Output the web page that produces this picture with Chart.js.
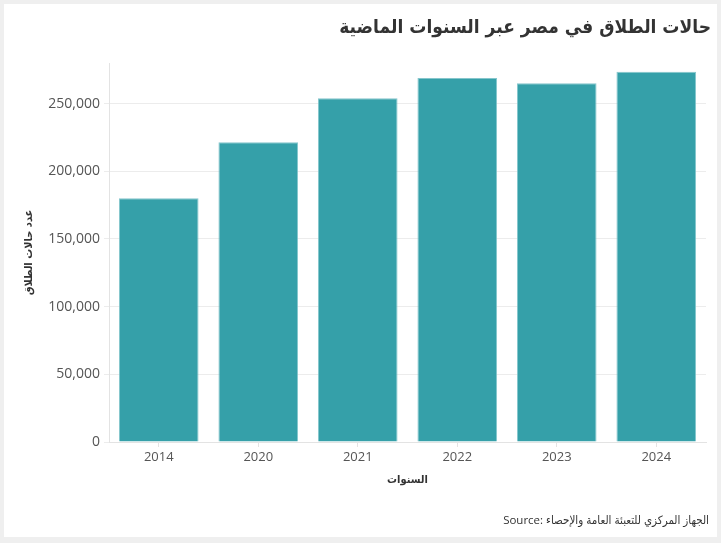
<!DOCTYPE html>
<html lang="ar">
<head>
<meta charset="utf-8">
<title>حالات الطلاق في مصر</title>
<script src="https://cdn.jsdelivr.net/npm/chart.js@4.4.1/dist/chart.umd.min.js"></script>
<style>
  html, body { margin: 0; padding: 0; background: #efefef; }
  #card {
    position: absolute;
    left: 4px; top: 4px;
    width: 713px; height: 533px;
    background: #ffffff;
  }
  #chartBox { position: absolute; left: 0; top: 0; width: 713px; height: 533px; }
  #title {
    position: absolute;
    right: 6px; top: 11px;
    direction: rtl;
    font-family: 'DejaVu Sans Condensed', 'DejaVu Sans', sans-serif;
    font-weight: bold;
    font-size: 19px;
    color: #333333;
    white-space: nowrap;
  }
  #source {
    position: absolute;
    right: 8px; top: 508px;
    direction: ltr;
    font-family: 'Open Sans', 'DejaVu Sans Condensed', 'DejaVu Sans', sans-serif;
    font-size: 11.5px;
    color: #333333;
    white-space: nowrap;
  }
</style>
</head>
<body>
<div id="card">
  <div id="chartBox"><canvas id="divorceChart"></canvas></div>
  <div id="title"></div>
  <div id="source"></div>
</div>
<script>
// Chart data
const years = ["2014", "2020", "2021", "2022", "2023", "2024"];
const divorceCases = [180000, 221500, 254000, 269000, 265000, 273500];
const yTicks = [0, 50000, 100000, 150000, 200000, 250000];
const yMax = 280000;

// Texts
const chartTitle = "حالات الطلاق في مصر عبر السنوات الماضية";
const yTitle = "عدد حالات الطلاق";
const xTitle = "السنوات";
const sourceText = "Source: الجهاز المركزي للتعبئة العامة والإحصاء";

document.getElementById("title").textContent = chartTitle;
document.getElementById("source").textContent = sourceText;

const arabicFont = "'DejaVu Sans Condensed', 'DejaVu Sans', sans-serif";
const latinFont = "'Open Sans', 'DejaVu Sans', sans-serif";

const ctx = document.getElementById("divorceChart").getContext("2d");
new Chart(ctx, {
  type: "bar",
  data: {
    labels: years,
    datasets: [{
      label: yTitle,
      data: divorceCases,
      backgroundColor: "#35a0a9",
      borderColor: "rgba(120, 192, 198, 0.9)",
      borderWidth: 1,
      barPercentage: 0.8,
      categoryPercentage: 1.0
    }]
  },
  options: {
    responsive: true,
    maintainAspectRatio: false,
    animation: false,
    layout: { padding: { left: 10, right: 11, top: 59, bottom: 24 } },
    plugins: {
      legend: { display: false },
      tooltip: { enabled: false }
    },
    scales: {
      x: {
        grid: {
          offset: false,
          drawOnChartArea: false,
          drawTicks: true,
          tickLength: 5,
          color: "#e3e3e3"
        },
        border: { color: "#e3e3e3" },
        ticks: {
          color: "#555555",
          padding: 2,
          font: { family: latinFont, size: 13 }
        },
        title: {
          display: true,
          text: xTitle,
          color: "#333333",
          font: { family: arabicFont, size: 11, weight: "bold" },
          padding: { top: 0, bottom: 26 }
        },
        afterFit: function (scale) { scale.height = 71; }
      },
      y: {
        min: 0,
        max: yMax,
        afterBuildTicks: function (scale) {
          scale.ticks = yTicks.map(v => ({ value: v }));
        },
        grid: {
          color: "#ececec",
          tickLength: 5
        },
        border: { color: "#e3e3e3" },
        ticks: {
          color: "#555555",
          padding: 4,
          font: { family: latinFont, size: 14 },
          callback: function (value) { return value.toLocaleString("en-US"); }
        },
        title: {
          display: true,
          text: yTitle,
          color: "#333333",
          font: { family: arabicFont, size: 11, weight: "bold" },
          padding: { top: 9, bottom: 0 }
        },
        afterFit: function (scale) { scale.width = 95; }
      }
    }
  }
});
</script>
</body>
</html>
